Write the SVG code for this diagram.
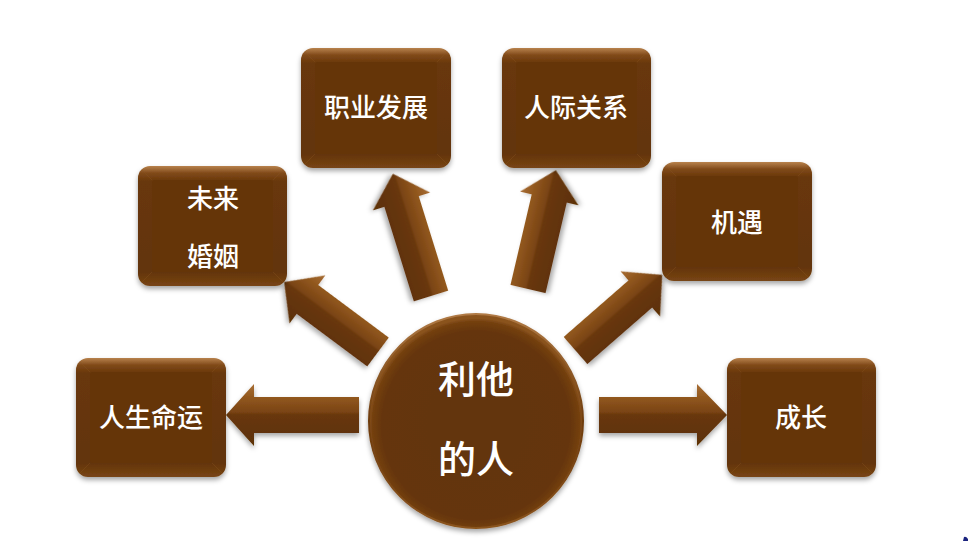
<svg xmlns="http://www.w3.org/2000/svg" width="977" height="541" viewBox="0 0 977 541">
<defs>
<filter id="sh" x="-20%" y="-20%" width="140%" height="150%">
<feDropShadow dx="0" dy="3" stdDeviation="2.5" flood-color="#000" flood-opacity="0.35"/>
</filter>
<linearGradient id="boxg" x1="0" y1="0" x2="0" y2="1">
<stop offset="0" stop-color="#b8824c"/>
<stop offset="0.06" stop-color="#80491a"/>
<stop offset="0.13" stop-color="#683709"/>
<stop offset="0.88" stop-color="#633407"/>
<stop offset="1" stop-color="#784515"/>
</linearGradient>
<linearGradient id="arrg" x1="0" y1="0" x2="0" y2="1">
<stop offset="0" stop-color="#a86e35"/>
<stop offset="0.2" stop-color="#93591f"/>
<stop offset="0.45" stop-color="#7a4414"/>
<stop offset="0.5" stop-color="#683709"/>
<stop offset="1" stop-color="#5c3006"/>
</linearGradient>
<radialGradient id="circg" cx="0.5" cy="0.52" r="0.5">
<stop offset="0" stop-color="#633407"/>
<stop offset="0.88" stop-color="#653508"/>
<stop offset="0.97" stop-color="#74400f"/>
<stop offset="1" stop-color="#8a531e"/>
</radialGradient>
<linearGradient id="rim" x1="0" y1="0" x2="0" y2="1">
<stop offset="0" stop-color="#b07a45"/>
<stop offset="0.5" stop-color="#6e3c0d"/>
<stop offset="1" stop-color="#8a541f"/>
</linearGradient>
<style>
.box{fill:url(#boxg);filter:url(#sh)}
.inner{fill:#653508}
.dg{stroke:#8a5522;stroke-opacity:0.35;stroke-width:1}
.arr{fill:url(#arrg);filter:url(#sh)}
.t{font-family:"Noto Sans CJK SC","Noto Sans",sans-serif;font-weight:500;fill:#ffffff;font-size:26px;text-anchor:middle}
.tc{font-size:38px}
</style>
</defs>
<rect width="977" height="541" fill="#ffffff"/>

<g id="connectors">
<polygon class="arr" transform="translate(359,415) scale(-1,1)" points="0,-18 105,-18 105,-31 133,0 105,31 105,18 0,18"/>
<polygon class="arr" transform="translate(599,415)" points="0,-18 98,-18 98,-31 128,0 98,31 98,18 0,18"/>
<polygon class="arr" transform="translate(378,352) scale(-1,1) rotate(-36.7)" points="0,-18 88,-18 88,-30 117,0 88,30 88,18 0,18"/>
<polygon class="arr" transform="translate(431,296) scale(-1,1) rotate(-72.7)" points="0,-18 99,-18 99,-30 128,0 99,30 99,18 0,18"/>
<polygon class="arr" transform="translate(528,289) rotate(-76.8)" points="0,-18 93,-18 93,-30 122,0 93,30 93,18 0,18"/>
<polygon class="arr" transform="translate(575.5,350.5) rotate(-41.1)" points="0,-18 86,-18 86,-30 115,0 86,30 86,18 0,18"/>
</g>

<g id="center">
<circle cx="476" cy="421" r="107" fill="url(#circg)" stroke="url(#rim)" stroke-width="2" filter="url(#sh)"/>
<text class="t tc" x="476" y="393">利他</text>
<text class="t tc" x="476" y="473">的人</text>
</g>

<g id="n-rensheng">
<rect class="box" x="76" y="358" width="150" height="119" rx="12"/>
<rect class="inner" x="90" y="372" width="122" height="91" rx="3"/>
<path class="dg" d="M80,362 L90,372 M222,362 L212,372 M80,473 L90,463 M222,473 L212,463"/>
<text class="t" x="151" y="427">人生命运</text>
</g>

<g id="n-hunyin">
<rect class="box" x="138" y="166" width="149" height="120" rx="12"/>
<rect class="inner" x="152" y="180" width="121" height="92" rx="3"/>
<path class="dg" d="M142,170 L152,180 M283,170 L273,180 M142,282 L152,272 M283,282 L273,272"/>
<text class="t" x="213" y="208">未来</text>
<text class="t" x="213" y="266">婚姻</text>
</g>

<g id="n-zhiye">
<rect class="box" x="301" y="48" width="150" height="120" rx="12"/>
<rect class="inner" x="315" y="62" width="122" height="92" rx="3"/>
<path class="dg" d="M305,52 L315,62 M447,52 L437,62 M305,164 L315,154 M447,164 L437,154"/>
<text class="t" x="376" y="117">职业发展</text>
</g>

<g id="n-renji">
<rect class="box" x="502" y="48" width="149" height="120" rx="12"/>
<rect class="inner" x="516" y="62" width="121" height="92" rx="3"/>
<path class="dg" d="M506,52 L516,62 M647,52 L637,62 M506,164 L516,154 M647,164 L637,154"/>
<text class="t" x="576" y="117">人际关系</text>
</g>

<g id="n-jiyu">
<rect class="box" x="662" y="162" width="150" height="119" rx="12"/>
<rect class="inner" x="676" y="176" width="122" height="91" rx="3"/>
<path class="dg" d="M666,166 L676,176 M808,166 L798,176 M666,277 L676,267 M808,277 L798,267"/>
<text class="t" x="737" y="232">机遇</text>
</g>

<g id="n-chengzhang">
<rect class="box" x="727" y="358" width="149" height="119" rx="12"/>
<rect class="inner" x="741" y="372" width="121" height="91" rx="3"/>
<path class="dg" d="M731,362 L741,372 M872,362 L862,372 M731,473 L741,463 M872,473 L862,463"/>
<text class="t" x="801" y="427">成长</text>
</g>

<path d="M963,541 L964,537 Q966,536 968,539 L968,541 Z" fill="#1a237e"/>
</svg>
